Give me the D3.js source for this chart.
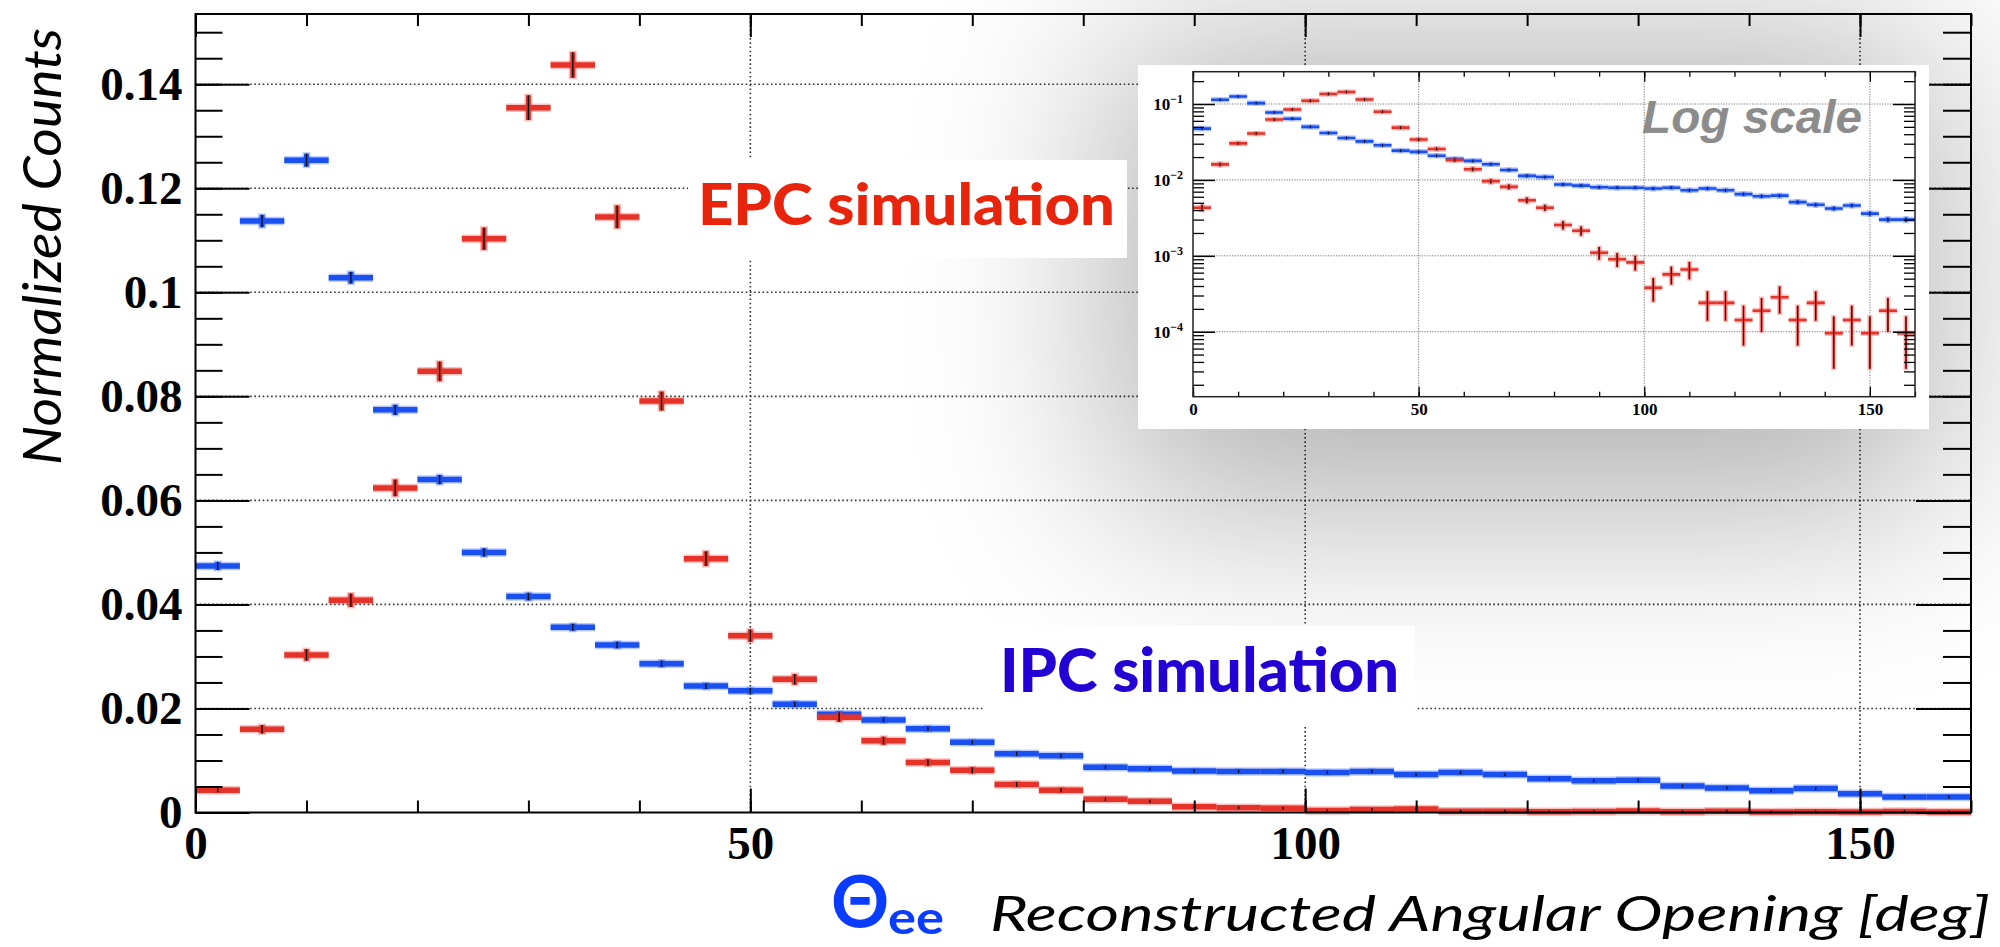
<!DOCTYPE html>
<html>
<head>
<meta charset="utf-8">
<script src="https://cdn.jsdelivr.net/npm/d3@7"></script>
<style>
  html, body { margin: 0; padding: 0; background: #fff; }
  svg { display: block; }
</style>
</head>
<body>
<svg id="chart" width="2000" height="947"></svg>
<script>
// ---- histogram data: 4-degree bins of the reconstructed opening angle ----
const binLow = [0, 4, 8, 12, 16, 20, 24, 28, 32, 36, 40, 44, 48, 52, 56, 60, 64, 68, 72, 76,
                80, 84, 88, 92, 96, 100, 104, 108, 112, 116, 120, 124, 128, 132, 136, 140, 144, 148, 152, 156];
const binWidth = 4;

// IPC (internal pair conversion) simulation, normalized counts
const ipcCounts = [0.0474, 0.1137, 0.1254, 0.1028, 0.0774, 0.0640, 0.0500, 0.0415, 0.0356, 0.0322,
                   0.0286, 0.0243, 0.0234, 0.0208, 0.0189, 0.0178, 0.0161, 0.0135, 0.0113, 0.0109,
                   0.0087, 0.0084, 0.0080, 0.0079, 0.0079, 0.0077, 0.0079, 0.0073, 0.0077, 0.0073,
                   0.0065, 0.0061, 0.0062, 0.0051, 0.0047, 0.0042, 0.0046, 0.0036, 0.0030, 0.0030];
const ipcErrors = [0.00077, 0.00119, 0.00125, 0.00113, 0.00098, 0.00089, 0.00079, 0.00072, 0.00067, 0.00063,
                   0.00060, 0.00055, 0.00054, 0.00051, 0.00049, 0.00047, 0.00045, 0.00041, 0.00038, 0.00037,
                   0.00033, 0.00032, 0.00032, 0.00031, 0.00031, 0.00031, 0.00031, 0.00030, 0.00031, 0.00030,
                   0.00029, 0.00028, 0.00028, 0.00025, 0.00024, 0.00023, 0.00024, 0.00021, 0.00019, 0.00019];

// EPC (external pair conversion) simulation, normalized counts
const epcCounts = [0.0043, 0.0160, 0.0303, 0.0408, 0.0624, 0.0848, 0.1103, 0.1355, 0.1437, 0.1145,
                   0.0791, 0.0488, 0.0340, 0.0256, 0.0183, 0.0138, 0.0096, 0.0081, 0.0054, 0.0043,
                   0.00255, 0.00214, 0.0011, 0.0009, 0.00082, 0.00038, 0.00057, 0.00066, 0.00024, 0.00024,
                   0.000143, 0.000189, 0.000284, 0.000143, 0.00024, 0.0000955, 0.000143, 0.0000955, 0.000189, 0.0000955];
const epcErrors = [0.00042, 0.00082, 0.00112, 0.00130, 0.00161, 0.00188, 0.00214, 0.00238, 0.00245, 0.00218,
                   0.00182, 0.00143, 0.00119, 0.00103, 0.00087, 0.00076, 0.00063, 0.00058, 0.00047, 0.00042,
                   0.00033, 0.00030, 0.00021, 0.00019, 0.00018, 0.00013, 0.00015, 0.00017, 0.00010, 0.00010,
                   0.000077, 0.000089, 0.00011, 0.000077, 0.00010, 0.000063, 0.000077, 0.000063, 0.000089, 0.000063];

// axis ticks and labels
const xTickValues = [0, 50, 100, 150];
const xTickLabels = ["0", "50", "100", "150"];
const yTickValues = [0, 0.02, 0.04, 0.06, 0.08, 0.10, 0.12, 0.14];
const yTickLabels = ["0", "0.02", "0.04", "0.06", "0.08", "0.1", "0.12", "0.14"];
const logTickValues = [1e-4, 1e-3, 1e-2, 1e-1];
const logTickExponents = ["\u22124", "\u22123", "\u22122", "\u22121"];

// ---- colours ----
const ipcColor = "#1a4ff0";
const epcColor = "#e5332a";

const svg = d3.select("#chart");
const defs = svg.append("defs");

const bins = binLow.map((lo, i) => ({
  lo, hi: lo + binWidth,
  ipc: ipcCounts[i], ipcErr: ipcErrors[i],
  epc: epcCounts[i], epcErr: epcErrors[i]
}));

// ================= main linear-scale panel =================
const x = d3.scaleLinear().domain([0, 160]).range([195.5, 1971]);
const y = d3.scaleLinear().domain([0, 0.1535]).range([812.5, 14]);

const main = svg.append("g");

// dotted grid
const grid = main.append("g")
  .attr("stroke", "#333").attr("stroke-width", 1.6).attr("stroke-dasharray", "1.6,2.6");
grid.selectAll("line.gh").data(yTickValues.filter(v => v > 0)).join("line").attr("class", "gh")
  .attr("x1", x(0)).attr("x2", x(160)).attr("y1", d => y(d)).attr("y2", d => y(d));
grid.selectAll("line.gv").data(xTickValues.filter(v => v > 0)).join("line").attr("class", "gv")
  .attr("y1", y(0)).attr("y2", y.range()[1]).attr("x1", d => x(d)).attr("x2", d => x(d));

function drawSeries(g, key, color, xs, ys, opt) {
  const s = g.append("g");
  const mid = d => (d.lo + d.hi) / 2;
  const lowOf = d => Math.max(d[key] - d[key + "Err"], ys.domain()[0]);
  const highOf = d => d[key] + d[key + "Err"];
  // soft halo
  s.selectAll("line.hh").data(bins).join("line").attr("class", "hh")
    .attr("x1", d => xs(d.lo)).attr("x2", d => xs(d.hi))
    .attr("y1", d => ys(d[key])).attr("y2", d => ys(d[key]))
    .attr("stroke", color).attr("stroke-opacity", 0.3).attr("stroke-width", opt.bar + 3);
  s.selectAll("line.hv").data(bins).join("line").attr("class", "hv")
    .attr("x1", d => xs(mid(d))).attr("x2", d => xs(mid(d)))
    .attr("y1", d => ys(highOf(d)) - 1.5).attr("y2", d => ys(lowOf(d)) + 1.5)
    .attr("stroke", color).attr("stroke-opacity", 0.3).attr("stroke-width", opt.err + 3);
  // bin content bar
  s.selectAll("line.b").data(bins).join("line").attr("class", "b")
    .attr("x1", d => xs(d.lo)).attr("x2", d => xs(d.hi))
    .attr("y1", d => ys(d[key])).attr("y2", d => ys(d[key]))
    .attr("stroke", color).attr("stroke-width", opt.bar);
  // statistical error bar
  s.selectAll("line.e").data(bins).join("line").attr("class", "e")
    .attr("x1", d => xs(mid(d))).attr("x2", d => xs(mid(d)))
    .attr("y1", d => ys(highOf(d))).attr("y2", d => ys(lowOf(d)))
    .attr("stroke", color).attr("stroke-width", opt.err);
  // small dark marker at the bin centre
  if (opt.marker) {
    s.selectAll("line.m").data(bins).join("line").attr("class", "m")
      .attr("x1", d => xs(mid(d))).attr("x2", d => xs(mid(d)))
      .attr("y1", d => Math.min(ys(highOf(d)), ys(d[key]) - 1.5))
      .attr("y2", d => Math.max(ys(lowOf(d)), ys(d[key]) + 1.5))
      .attr("stroke", "#111").attr("stroke-width", opt.marker);
  }
}

drawSeries(main, "ipc", ipcColor, x, y, { bar: 5.5, err: 5, marker: 1.4 });
drawSeries(main, "epc", epcColor, x, y, { bar: 5.5, err: 5, marker: 1.4 });

// axes (ticks point into the frame)
function styleAxis(g, width) {
  g.select(".domain").remove();
  g.selectAll(".tick line").attr("stroke", "#000").attr("stroke-width", width);
}
const labelFont = g => g.selectAll("text")
  .attr("font-family", "'Liberation Serif', 'Times New Roman', serif")
  .attr("font-weight", "bold").attr("font-size", 47).attr("fill", "#000");

main.append("g").attr("transform", `translate(0,${y(0)})`)
  .call(d3.axisBottom(x).ticks(16).tickSize(-12).tickFormat(""))
  .call(g => styleAxis(g, 2));
main.append("g").attr("transform", `translate(0,${y(0)})`)
  .call(d3.axisBottom(x).tickValues(xTickValues).tickSize(-24).tickPadding(13)
        .tickFormat((d, i) => xTickLabels[i]))
  .call(g => styleAxis(g, 2)).call(labelFont);
main.append("g").attr("transform", `translate(0,${y.range()[1]})`)
  .call(d3.axisTop(x).ticks(16).tickSize(-12).tickFormat(""))
  .call(g => styleAxis(g, 2));
main.append("g").attr("transform", `translate(0,${y.range()[1]})`)
  .call(d3.axisTop(x).tickValues(xTickValues).tickSize(-23).tickFormat(""))
  .call(g => styleAxis(g, 2));

main.append("g").attr("transform", `translate(${x(0)},0)`)
  .call(d3.axisLeft(y).ticks(30).tickSize(-27).tickFormat(""))
  .call(g => styleAxis(g, 2));
main.append("g").attr("transform", `translate(${x(0)},0)`)
  .call(d3.axisLeft(y).tickValues(yTickValues).tickSize(-54).tickPadding(13)
        .tickFormat((d, i) => yTickLabels[i]))
  .call(g => styleAxis(g, 2)).call(labelFont);
main.append("g").attr("transform", `translate(${x(160)},0)`)
  .call(d3.axisRight(y).ticks(30).tickSize(-28).tickFormat(""))
  .call(g => styleAxis(g, 2));
main.append("g").attr("transform", `translate(${x(160)},0)`)
  .call(d3.axisRight(y).tickValues(yTickValues).tickSize(-55).tickFormat(""))
  .call(g => styleAxis(g, 2));

// frame
main.append("rect")
  .attr("x", x(0)).attr("y", y.range()[1])
  .attr("width", x(160) - x(0)).attr("height", y(0) - y.range()[1])
  .attr("fill", "none").attr("stroke", "#000").attr("stroke-width", 2);

// axis titles
svg.append("text")
  .attr("transform", "translate(61,465) rotate(-90)")
  .attr("font-family", "Lato, 'Open Sans', sans-serif").attr("font-style", "italic")
  .attr("font-size", 52).attr("fill", "#000")
  .attr("textLength", 437).attr("lengthAdjust", "spacingAndGlyphs")
  .text("Normalized Counts");

svg.append("text")
  .attr("x", 990).attr("y", 931)
  .attr("font-family", "Lato, 'Open Sans', sans-serif").attr("font-style", "italic")
  .attr("font-size", 48).attr("fill", "#000")
  .attr("textLength", 1000).attr("lengthAdjust", "spacingAndGlyphs")
  .text("Reconstructed Angular Opening [deg]");

svg.append("text")
  .attr("x", 831).attr("y", 928)
  .attr("font-family", "Lato, 'DejaVu Sans', sans-serif").attr("font-weight", "bold")
  .attr("font-size", 72).attr("fill", "#0a3cff")
  .text("\u0398");
svg.append("text")
  .attr("x", 888).attr("y", 934)
  .attr("font-family", "Lato, 'DejaVu Sans', sans-serif").attr("font-weight", "bold")
  .attr("font-size", 46).attr("fill", "#0a3cff")
  .attr("textLength", 56).attr("lengthAdjust", "spacingAndGlyphs")
  .text("ee");

// ================= soft shadow behind the log-scale inset =================
const glow = defs.append("filter").attr("id", "insetGlow")
  .attr("filterUnits", "userSpaceOnUse")
  .attr("x", 0).attr("y", -400).attr("width", 2600).attr("height", 1600);
glow.append("feGaussianBlur").attr("stdDeviation", 100);
svg.append("rect")
  .attr("x", 1110).attr("y", 40).attr("width", 830).attr("height", 470)
  .attr("fill", "#000").attr("opacity", 0.3).attr("filter", "url(#insetGlow)");

// ================= series labels =================
svg.append("rect").attr("x", 688).attr("y", 160).attr("width", 439).attr("height", 98).attr("fill", "#fff");
svg.append("text")
  .attr("x", 698).attr("y", 225)
  .attr("font-family", "Lato, 'Open Sans', sans-serif").attr("font-weight", 900)
  .attr("font-size", 58).attr("fill", "#e8250c")
  .attr("textLength", 417).attr("lengthAdjust", "spacingAndGlyphs")
  .text("EPC simulation");

svg.append("rect").attr("x", 985).attr("y", 626).attr("width", 430).attr("height", 99).attr("fill", "#fff");
svg.append("text")
  .attr("x", 1000).attr("y", 692)
  .attr("font-family", "Lato, 'Open Sans', sans-serif").attr("font-weight", 900)
  .attr("font-size", 60).attr("fill", "#2300d3")
  .attr("textLength", 399).attr("lengthAdjust", "spacingAndGlyphs")
  .text("IPC simulation");

// ================= log-scale inset =================
const inset = svg.append("g");
inset.append("rect").attr("x", 1138).attr("y", 65).attr("width", 791).attr("height", 364).attr("fill", "#fff");

const xi = d3.scaleLinear().domain([0, 160]).range([1193, 1915]);
const yi = d3.scaleLog().domain([1.393e-5, 0.2665]).range([396.7, 71.7]);

defs.append("clipPath").attr("id", "insetClip").append("rect")
  .attr("x", xi(0)).attr("y", yi.range()[1])
  .attr("width", xi(160) - xi(0)).attr("height", yi.range()[0] - yi.range()[1]);

const igrid = inset.append("g")
  .attr("stroke", "#777").attr("stroke-width", 1).attr("stroke-dasharray", "1.2,1.4");
igrid.selectAll("line.gh").data(logTickValues).join("line").attr("class", "gh")
  .attr("x1", xi(0)).attr("x2", xi(160)).attr("y1", d => yi(d)).attr("y2", d => yi(d));
igrid.selectAll("line.gv").data(xTickValues.filter(v => v > 0)).join("line").attr("class", "gv")
  .attr("y1", yi.range()[0]).attr("y2", yi.range()[1]).attr("x1", d => xi(d)).attr("x2", d => xi(d));

const idata = inset.append("g").attr("clip-path", "url(#insetClip)");
drawSeries(idata, "ipc", ipcColor, xi, yi, { bar: 2.6, err: 2.2, marker: 1 });
drawSeries(idata, "epc", epcColor, xi, yi, { bar: 2.6, err: 2.2, marker: 1 });

const insetLabelFont = g => g.selectAll("text")
  .attr("font-family", "'Liberation Serif', 'Times New Roman', serif")
  .attr("font-weight", "bold").attr("font-size", 17).attr("fill", "#000");

const logMinor = yi.ticks().filter(v => !logTickValues.some(t => Math.abs(v / t - 1) < 1e-6));

inset.append("g").attr("transform", `translate(0,${yi.range()[0]})`)
  .call(d3.axisBottom(xi).ticks(16).tickSize(-5).tickFormat(""))
  .call(g => styleAxis(g, 1.3));
inset.append("g").attr("transform", `translate(0,${yi.range()[0]})`)
  .call(d3.axisBottom(xi).tickValues(xTickValues).tickSize(-10).tickPadding(6)
        .tickFormat((d, i) => xTickLabels[i]))
  .call(g => styleAxis(g, 1.3)).call(insetLabelFont);
inset.append("g").attr("transform", `translate(0,${yi.range()[1]})`)
  .call(d3.axisTop(xi).ticks(16).tickSize(-5).tickFormat(""))
  .call(g => styleAxis(g, 1.3));
inset.append("g").attr("transform", `translate(0,${yi.range()[1]})`)
  .call(d3.axisTop(xi).tickValues(xTickValues).tickSize(-10).tickFormat(""))
  .call(g => styleAxis(g, 1.3));

inset.append("g").attr("transform", `translate(${xi(0)},0)`)
  .call(d3.axisLeft(yi).tickValues(logMinor).tickSize(-11).tickFormat(""))
  .call(g => styleAxis(g, 1.3));
const leftLog = inset.append("g").attr("transform", `translate(${xi(0)},0)`)
  .call(d3.axisLeft(yi).tickValues(logTickValues).tickSize(-22).tickPadding(10).tickFormat(() => ""))
  .call(g => styleAxis(g, 1.5)).call(insetLabelFont);
leftLog.selectAll(".tick text").each(function (d, i) {
  const t = d3.select(this);
  t.append("tspan").text("10");
  t.append("tspan").attr("dy", -7).attr("font-size", 12).text(logTickExponents[i]);
});
inset.append("g").attr("transform", `translate(${xi(160)},0)`)
  .call(d3.axisRight(yi).tickValues(logMinor).tickSize(-11).tickFormat(""))
  .call(g => styleAxis(g, 1.3));
inset.append("g").attr("transform", `translate(${xi(160)},0)`)
  .call(d3.axisRight(yi).tickValues(logTickValues).tickSize(-22).tickFormat(""))
  .call(g => styleAxis(g, 1.5));

inset.append("rect")
  .attr("x", xi(0)).attr("y", yi.range()[1])
  .attr("width", xi(160) - xi(0)).attr("height", yi.range()[0] - yi.range()[1])
  .attr("fill", "none").attr("stroke", "#222").attr("stroke-width", 1.5);

inset.append("text")
  .attr("x", 1642).attr("y", 133)
  .attr("font-family", "'Liberation Sans', Arial, sans-serif")
  .attr("font-weight", "bold").attr("font-style", "italic")
  .attr("font-size", 46).attr("fill", "#8c8c8c")
  .attr("textLength", 220).attr("lengthAdjust", "spacingAndGlyphs")
  .text("Log scale");
</script>
</body>
</html>
